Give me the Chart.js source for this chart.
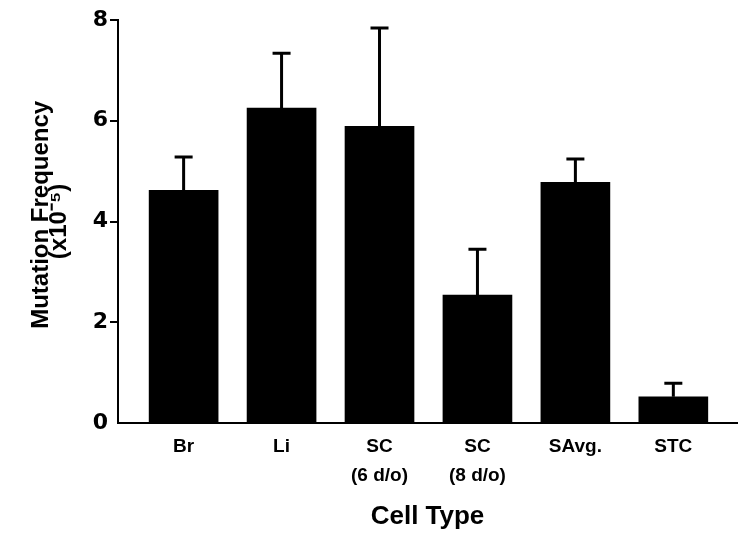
<!DOCTYPE html>
<html>
<head>
<meta charset="utf-8">
<script src="https://cdn.jsdelivr.net/npm/chart.js@4.4.0/dist/chart.umd.min.js"></script>
<style>
  body { margin: 0; background: #fff; }
  #wrap { width: 749px; height: 539px; }
</style>
</head>
<body>
<div id="wrap"><canvas id="myChart"></canvas></div>
<script>
// values
const cellTypes = ['Br', 'Li', ['SC', '(6 d/o)'], ['SC', '(8 d/o)'], 'SAvg.', 'STC']
const mutationFreq = [4.62, 6.25, 5.89, 2.54, 4.78, 0.52]
const errorSize = [0.66, 1.09, 1.95, 0.91, 0.46, 0.27]
const yTicks = [0, 2, 4, 6, 8]

const ctx = document.getElementById('myChart')

// draws the upper error bar with a cap above each bar
const errorBars = {
  id: 'errorBars',
  afterDatasetsDraw(chart) {
    const c = chart.ctx
    const xs = chart.scales.x
    const ys = chart.scales.y
    c.save()
    c.strokeStyle = '#000'
    c.lineWidth = 3
    mutationFreq.forEach((v, i) => {
      const x = xs.getPixelForValue(i)
      const y0 = ys.getPixelForValue(v)
      const y1 = ys.getPixelForValue(v + errorSize[i])
      c.beginPath()
      c.moveTo(x, y0)
      c.lineTo(x, y1)
      c.moveTo(x - 9, y1)
      c.lineTo(x + 9, y1)
      c.stroke()
    })
    c.restore()
  }
}

const data = {
  datasets: [{
    data: mutationFreq.map((y, i) => ({ x: i, y: y })),
    backgroundColor: '#000',
    borderWidth: 0,
    barThickness: 69
  }]
}

const chart = new Chart(ctx, {
  type: 'bar',
  data: data,
  plugins: [errorBars],
  options: {
    responsive: true,
    maintainAspectRatio: false,
    animation: false,
    layout: { padding: { top: 20, right: 12, left: 0, bottom: 0 } },
    plugins: { legend: { display: false }, tooltip: { enabled: false } },
    scales: {
      x: {
        type: 'linear',
        offset: false,
        min: -0.67,
        max: 5.65,
        afterBuildTicks: (scale) => { scale.ticks = cellTypes.map((_, i) => ({ value: i })) },
        afterFit: (scale) => { scale.height = 116 },
        grid: { display: false },
        border: { display: true, color: '#000', width: 2 },
        ticks: {
          color: '#000',
          padding: 2,
          maxRotation: 0,
          autoSkip: false,
          font: { family: 'Liberation Sans', size: 19, weight: 'bold', lineHeight: 1.5 },
          callback: (v) => cellTypes[v]
        },
        title: {
          display: true,
          text: 'Cell Type',
          color: '#000',
          padding: { top: 0, bottom: 7 },
          font: { family: 'Liberation Sans', size: 26, weight: 'bold', lineHeight: 1.2 }
        }
      },
      y: {
        min: 0,
        max: 8,
        afterBuildTicks: (scale) => { scale.ticks = yTicks.map(v => ({ value: v })) },
        afterFit: (scale) => { scale.width = 118 },
        grid: {
          drawOnChartArea: false,
          drawTicks: true,
          tickLength: 8,
          lineWidth: 2,
          color: (c) => c.tick && c.tick.value === 0 ? 'rgba(0,0,0,0)' : '#000'
        },
        border: { display: true, color: '#000', width: 2 },
        ticks: {
          color: '#000',
          padding: 2,
          font: { family: 'DejaVu Sans', size: 22, weight: 'bold' }
        },
        title: {
          display: true,
          text: ['\u00A0\u00A0Mutation Frequency', '(x10\u207B\u2075)'],
          color: '#000',
          padding: { top: 33, bottom: 0 },
          font: { family: 'Liberation Sans', size: 24, weight: 'bold', lineHeight: 0.72 }
        }
      }
    }
  }
})
</script>
</body>
</html>
